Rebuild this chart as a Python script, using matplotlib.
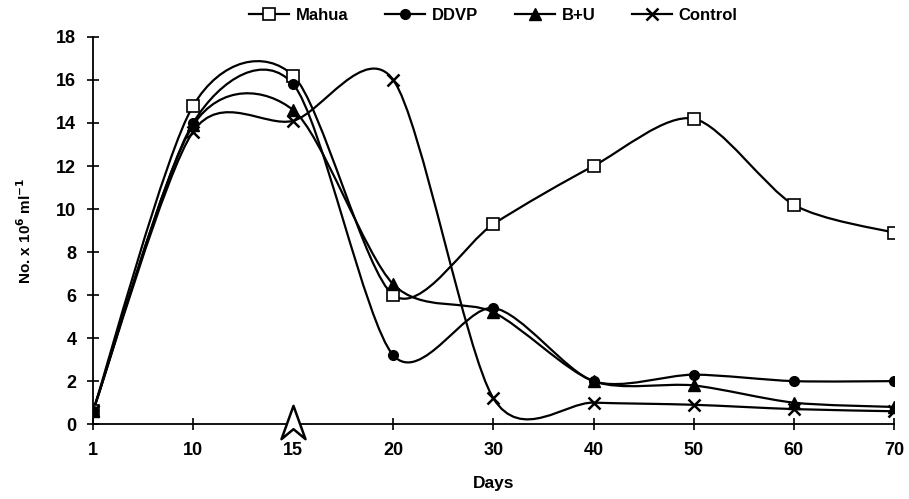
import matplotlib.pyplot as plt
import numpy as np
from matplotlib.path import Path
from matplotlib.patches import PathPatch

plt.rcParams['font.family'] = ['Liberation Sans', 'DejaVu Sans']
plt.rcParams['font.weight'] = 'bold'
plt.rcParams['mathtext.default'] = 'bf'

days = ['1', '10', '15', '20', '30', '40', '50', '60', '70']
mahua = [0.6, 14.8, 16.2, 6.0, 9.3, 12.0, 14.2, 10.2, 8.9]
ddvp = [0.6, 14.0, 15.8, 3.2, 5.4, 2.0, 2.3, 2.0, 2.0]
bu = [0.6, 13.9, 14.6, 6.5, 5.2, 2.0, 1.8, 1.0, 0.8]
control = [0.6, 13.6, 14.1, 16.0, 1.2, 1.0, 0.9, 0.7, 0.6]
arrow_day = '15'


def smooth_path(x, y, k=0.14):
    # smoothed line like excel: cubic bezier, catmull-rom style control points
    pts = np.column_stack([x, y]).astype(float)
    n = len(pts)
    verts = [pts[0]]
    codes = [Path.MOVETO]
    for i in range(n - 1):
        p0 = pts[max(i - 1, 0)]
        p1 = pts[i]
        p2 = pts[i + 1]
        p3 = pts[min(i + 2, n - 1)]
        verts += [p1 + (p2 - p0) * k, p2 - (p3 - p1) * k, p2]
        codes += [Path.CURVE4] * 3
    return Path(verts, codes)


fig = plt.figure(figsize=(9.09, 4.99), dpi=100)
ax = fig.add_axes([0.1023, 0.150, 0.881, 0.776])
x = np.arange(len(days))

series = [
    ('Mahua', mahua, dict(marker='s', mfc='white', mec='black', ms=8, mew=1.2)),
    ('DDVP', ddvp, dict(marker='o', mfc='black', mec='black', ms=7)),
    ('B+U', bu, dict(marker='^', mfc='black', mec='black', ms=8)),
    ('Control', control, dict(marker='x', mfc='black', mec='black', ms=8, mew=1.8)),
]

for name, vals, mk in series:
    ax.add_patch(PathPatch(smooth_path(x, vals), fill=False, lw=1.6, ec='black', zorder=2))
    ax.plot(x, vals, ls='none', zorder=3, **mk)
    ax.plot([], [], color='black', lw=1.6, label=name, **mk)

# arrowhead below day 15
head = Path([(0, 1), (0.72, -1), (0, -0.4), (-0.72, -1), (0, 1)],
            [Path.MOVETO, Path.LINETO, Path.LINETO, Path.LINETO, Path.CLOSEPOLY])
ax.plot(days.index(arrow_day), 0.12, marker=head, ms=24, mfc='white', mec='black',
        mew=1.8, clip_on=False, zorder=5)

ax.set_xlim(0, len(days) - 1)
ax.set_ylim(0, 18)
ax.set_xticks(x)
ax.set_xticklabels(days)
ax.set_yticks(np.arange(0, 19, 2))
ax.spines['top'].set_visible(False)
ax.spines['right'].set_visible(False)
ax.spines['left'].set_linewidth(1.3)
ax.spines['bottom'].set_linewidth(1.3)
ax.tick_params(direction='inout', length=8, width=1.2, labelsize=13)
ax.tick_params(axis='x', pad=9)
ax.tick_params(axis='y', pad=8)
for lab in ax.get_xticklabels() + ax.get_yticklabels():
    lab.set_fontweight('bold')

ax.set_xlabel('Days', fontsize=12.5, fontweight='bold', labelpad=12)
ax.set_ylabel('No. x 10$^{6}$ ml$^{-1}$', fontsize=11, fontweight='bold', labelpad=16)

ax.legend(loc='lower center', bbox_to_anchor=(0.5, 1.02), ncol=4, frameon=False,
          handlelength=2.4, handletextpad=0.4, columnspacing=2.2, borderaxespad=0.0,
          prop={'weight': 'bold', 'size': 12})

fig.savefig('out.png', dpi=100)
